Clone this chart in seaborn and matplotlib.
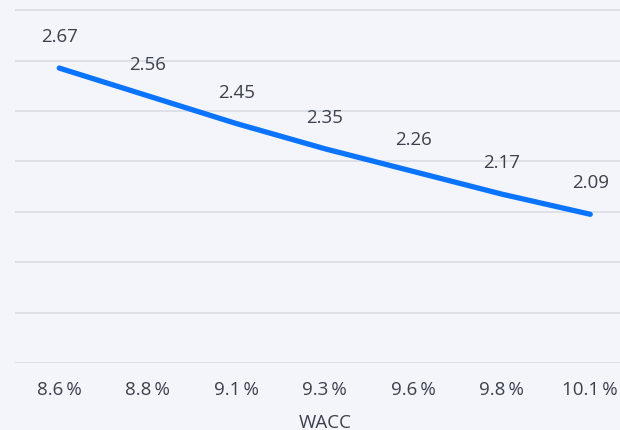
import matplotlib
matplotlib.use("Agg")
import matplotlib.pyplot as plt
import seaborn as sns
import pandas as pd

wacc_labels = ["8.6\u2009%", "8.8\u2009%", "9.1\u2009%", "9.3\u2009%", "9.6\u2009%", "9.8\u2009%", "10.1\u2009%"]
values = [2.67, 2.56, 2.45, 2.35, 2.26, 2.17, 2.09]
value_labels = ["2.67", "2.56", "2.45", "2.35", "2.26", "2.17", "2.09"]

sns.set_theme(style="white")
plt.rcParams["font.family"] = ["Open Sans", "DejaVu Sans"]

bg = "#f3f5fa"
txt = "#3b404c"
df = pd.DataFrame({"x": list(range(len(values))), "y": values})

fig = plt.figure(figsize=(6.2, 4.31), dpi=100, facecolor=bg)
W, H = 620, 431
left_px, right_px = 15, 634.5
top_px, bot_px = 0, 364
ax = fig.add_axes([left_px / W, 1 - bot_px / H, (right_px - left_px) / W, (bot_px - top_px) / H])
ax.set_facecolor(bg)

sns.lineplot(data=df, x="x", y="y", ax=ax, color="#0a74ff", linewidth=3.8,
             solid_capstyle="round")

ax.set_xlim(-0.5, 6.5)
ax.set_ylim(1.5, 2.944)
ax.set_yticks([1.5, 1.7, 1.9, 2.1, 2.3, 2.5, 2.7, 2.9])
ax.set_yticklabels([])
ax.yaxis.grid(True, color="#dde0e6", linewidth=1.4)
ax.set_axisbelow(True)
ax.tick_params(axis="y", length=0)
ax.set_xticks(range(len(wacc_labels)))
ax.set_xticklabels(wacc_labels, fontsize=13.5, color=txt)
ax.tick_params(axis="x", length=0, pad=12)
for s in ax.spines.values():
    s.set_visible(False)
ax.set_xlabel("WACC", fontsize=13.5, color=txt, labelpad=11)
ax.set_ylabel("")

for i, (v, lab) in enumerate(zip(values, value_labels)):
    ax.annotate(lab, (i, v), xytext=(0, 23), textcoords="offset points",
                ha="center", va="center", fontsize=13.5, color=txt)

fig.savefig("out.png", dpi=100, facecolor=bg)
